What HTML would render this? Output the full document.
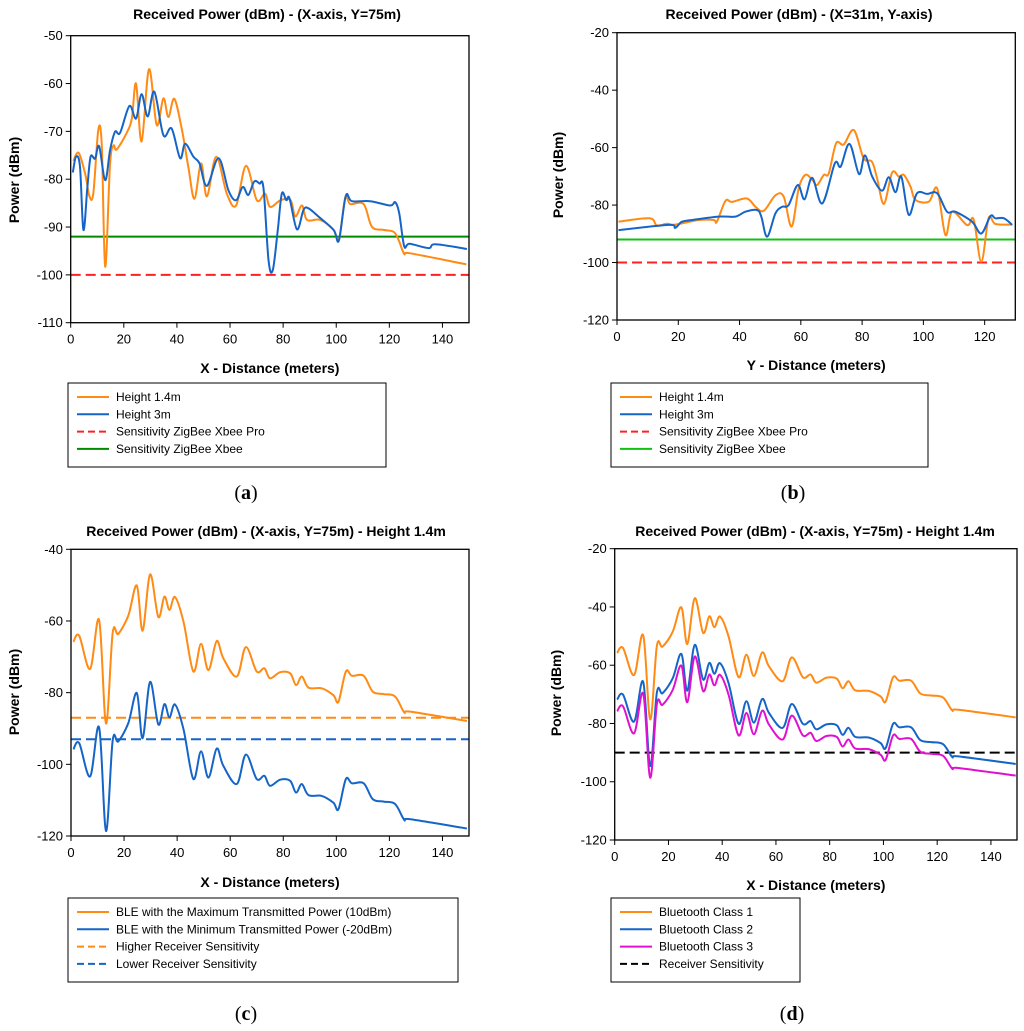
<!DOCTYPE html>
<html><head><meta charset="utf-8">
<style>
html,body{margin:0;padding:0;background:#fff;}
svg{display:block;font-family:"Liberation Sans",Arial,sans-serif;}
.tick{font-size:13px;fill:#000;}
.ttl{font-size:14px;font-weight:bold;}
.lg{font-size:12px;}
.cap{font-family:"Liberation Serif",serif;font-size:20px;}
</style></head>
<body>
<svg id="s" width="1024" height="1031" viewBox="0 0 1024 1031"></svg>
<script>
// ---- Panel (a) data ----
const aOrangeX=[1,3,5.5,7,8.5,10.4,11.7,13,14.8,16.1,17.3,21,23,24.6,26.7,29.5,32.4,34.9,36.8,39,41.8,44.3,46.6,49.1,51.3,54.8,58.8,62.3,66,70.1,73.2,75.1,79,82.8,84.6,87.1,89,94,99,101,103.4,105.3,110.3,113.4,117.8,121.6,123.5,125.6,127.9,149];
const aOrangeY=[-76.2,-74.5,-79,-83.5,-83,-69.7,-73,-98.3,-77,-73,-73.8,-70.4,-67.3,-60,-72.1,-57,-68.7,-63.1,-67,-63.2,-69.4,-77.4,-84.1,-76.7,-83.6,-75.3,-83,-85.5,-77.2,-84.4,-83,-85.8,-84.4,-84.4,-87.8,-85.5,-88.5,-88.5,-90.6,-92.7,-83.8,-85.2,-85.2,-89.9,-90.6,-91,-92.7,-95.6,-95.5,-97.8];
const aBlueX=[0.8,2,3.5,4.8,6.3,7.5,9.2,10.7,13,14.8,16.7,18.6,22.1,24.6,26.7,29,31.5,34.9,38,41.2,43.1,46.2,48.5,51.3,55.7,59.4,62.3,64.8,66.9,69.1,71.1,72.6,74.5,76.1,78,79.5,81.2,82.4,85.2,87.7,89.6,93.3,99,101,103.6,105.9,112.8,120.3,122.2,123.7,125.6,127.6,134.8,137.3,149.2];
const aBlueY=[-78.6,-75.3,-77.4,-90.6,-81.6,-75.3,-75.7,-73.1,-80.2,-74,-70.1,-70.3,-64.7,-67.3,-62.2,-66.9,-61.7,-70.8,-69.4,-75.6,-72.6,-75.3,-76.7,-81.4,-75.6,-82.3,-84.4,-81.6,-83.3,-80.5,-80.9,-81.9,-96.9,-99,-90.6,-83,-84.4,-84,-90.5,-86.4,-86.1,-87.8,-90.6,-92.8,-83.5,-84.6,-84.6,-85.5,-84.8,-87.1,-94,-93.5,-94.4,-93.6,-94.6];
const aSensPro=-100, aSensXbee=-92;
const aYTicks=[-50,-60,-70,-80,-90,-100,-110];
const aXTicks=[0,20,40,60,80,100,120,140];
// ---- Panel (b) data ----
const bOrangeX=[0.5,10.6,13,16.3,19,26.7,31.6,32.6,35.4,37.5,42.4,45.2,47.9,51.7,54.4,57,59.3,61.5,63.7,65.3,67.5,69.1,71.5,74,77.3,80.5,83.2,84.9,87.1,89.8,92,93.6,95.8,97.4,101.8,104.5,107.2,109.4,114.3,116.4,118.9,121.3,123.5,129];
const bOrangeY=[-85.8,-84.6,-87.1,-86.5,-86.8,-85.2,-85.2,-85.8,-78.5,-78.9,-77.7,-80.6,-82,-76.6,-77.1,-87.5,-74.2,-69.5,-71.2,-73,-69.5,-69,-58.5,-58.9,-53.9,-63.7,-64.9,-70.7,-79.6,-68.7,-70.1,-69.5,-73.6,-78.2,-78.8,-74.2,-90.4,-82.3,-87,-85,-99.7,-84.6,-86.6,-86.8];
const bBlueX=[0.5,16.9,19,21.2,24.5,33.2,38.6,41.9,45.7,47.1,49,51.7,53.9,56,59,61.2,63.7,67,71.1,73,75.9,79,80.9,83.3,86.5,88.7,90.9,92.8,95.2,97.9,101.2,104.5,107.7,110.4,115.9,118.9,121.9,123.5,126.3,129];
const bBlueY=[-88.7,-86.9,-87.9,-85.8,-85.2,-84,-84,-82.3,-81.7,-84,-91,-82.9,-80.6,-80,-73,-78,-70.5,-79.4,-65.5,-66.6,-58.7,-69.2,-62.7,-70.1,-75,-70.3,-75.5,-70.1,-83.4,-75.9,-76.1,-75.9,-82.3,-82.3,-85.8,-89.9,-83.8,-84.6,-84.6,-86.9];
const bSensPro=-100, bSensXbee=-92;
const bYTicks=[-20,-40,-60,-80,-100,-120];
const bXTicks=[0,20,40,60,80,100,120];
// ---- Panel (c) data ----
const cX=[0.9,3.1,7.2,10.6,13.2,15.7,17.8,21.6,24.8,27,29.8,32.9,35.2,37.1,39.2,42.4,46.1,49,51.8,54.9,57.4,62.5,65.9,70,72.9,75,78.8,82.6,84.8,87,89.5,94.5,98.9,100.8,103.6,105.9,110.3,113.7,117.8,122.2,125.6,127.9,149.2];
const cMaxY=[-65.8,-64.1,-73.4,-59.7,-88.6,-63.3,-63.6,-58.5,-50.1,-62.7,-47,-58.9,-53.2,-56.9,-53.3,-60.2,-74.1,-66.4,-73.7,-65.6,-70.4,-75.5,-67.3,-74.1,-73.2,-76,-74.3,-74.6,-77.9,-75.5,-78.6,-78.8,-80.7,-82.5,-74.1,-75.3,-75.3,-79.7,-80.4,-81.1,-85.5,-85.3,-87.9];
const cMinY=[-95.8,-94.1,-103.4,-89.7,-118.6,-93.3,-93.6,-88.5,-80.1,-92.7,-77,-88.9,-83.2,-86.9,-83.3,-90.2,-104.1,-96.4,-103.7,-95.6,-100.4,-105.5,-97.3,-104.1,-103.2,-106,-104.3,-104.6,-107.9,-105.5,-108.6,-108.8,-110.7,-112.5,-104.1,-105.3,-105.3,-109.7,-110.4,-111.1,-115.5,-115.3,-117.9];
const cSensHigh=-87, cSensLow=-93;
const cYTicks=[-40,-60,-80,-100,-120];
const cXTicks=[0,20,40,60,80,100,120,140];
// ---- Panel (d) data ----
const dX=[0.9,3.1,7.2,10.6,13.2,15.7,17.8,21.6,24.8,27,29.8,32.9,35.2,37.1,39.2,42.4,46.1,49,51.8,54.9,57.4,62.5,65.9,70,72.9,75,78.8,82.6,84.8,87,89.5,94.5,98.9,100.8,103.6,105.9,110.3,113.7,117.8,122.2,125.6,127.9,149.2];
const dClass1=[-55.8,-54.1,-63.4,-49.7,-78.6,-53.3,-53.6,-48.5,-40.1,-52.7,-37,-48.9,-43.2,-46.9,-43.3,-50.2,-64.1,-56.4,-63.7,-55.6,-60.4,-65.5,-57.3,-64.1,-63.2,-66,-64.3,-64.6,-67.9,-65.5,-68.6,-68.8,-70.7,-72.5,-64.1,-65.3,-65.3,-69.7,-70.4,-71.1,-75.5,-75.3,-77.9];
const dClass2=[-71.8,-70.1,-79.4,-65.7,-94.6,-69.3,-69.6,-64.5,-56.1,-68.7,-53,-64.9,-59.2,-62.9,-59.3,-66.2,-80.1,-72.4,-79.7,-71.6,-76.4,-81.5,-73.3,-80.1,-79.2,-82,-80.3,-80.6,-83.9,-81.5,-84.6,-84.8,-86.7,-88.5,-80.1,-81.3,-81.3,-85.7,-86.4,-87.1,-91.5,-91.3,-93.9];
const dClass3=[-75.8,-74.1,-83.4,-69.7,-98.6,-73.3,-73.6,-68.5,-60.1,-72.7,-57,-68.9,-63.2,-66.9,-63.3,-70.2,-84.1,-76.4,-83.7,-75.6,-80.4,-85.5,-77.3,-84.1,-83.2,-86,-84.3,-84.6,-87.9,-85.5,-88.6,-88.8,-90.7,-92.5,-84.1,-85.3,-85.3,-89.7,-90.4,-91.1,-95.5,-95.3,-97.9];
const dSens=-90;
const dYTicks=[-20,-40,-60,-80,-100,-120];
const dXTicks=[0,20,40,60,80,100,120,140];

const NS="http://www.w3.org/2000/svg";
const svg=document.getElementById('s');
function mk(tag,attrs,parent,text){
  const e=document.createElementNS(NS,tag);
  for(const k in attrs) e.setAttribute(k,attrs[k]);
  if(text!==undefined) e.textContent=text;
  (parent||svg).appendChild(e);
  return e;
}
function smooth(pts){
  let d='M'+pts[0][0].toFixed(1)+','+pts[0][1].toFixed(1);
  for(let i=0;i<pts.length-1;i++){
    const p0=pts[Math.max(0,i-1)],p1=pts[i],p2=pts[i+1],p3=pts[Math.min(pts.length-1,i+2)];
    const c1x=p1[0]+(p2[0]-p0[0])/6,c1y=p1[1]+(p2[1]-p0[1])/6;
    const c2x=p2[0]-(p3[0]-p1[0])/6,c2y=p2[1]-(p3[1]-p1[1])/6;
    d+=' C'+c1x.toFixed(1)+','+c1y.toFixed(1)+' '+c2x.toFixed(1)+','+c2y.toFixed(1)+' '+p2[0].toFixed(1)+','+p2[1].toFixed(1);
  }
  return d;
}
function panel(P){
  const g=mk('g',{});
  
  
  const sx=v=>P.L+(v-P.x0)/(P.x1-P.x0)*(P.R-P.L);
  const sy=v=>P.T+(P.y0-v)/(P.y0-P.y1)*(P.B-P.T);
  const t=mk('text',{x:P.tx,y:P.ty,'text-anchor':'middle','class':'ttl'},g,P.title);
  
  
  // y ticks
  P.yt.forEach(v=>{
    const y=sy(v);
    mk('line',{x1:P.L-5,x2:P.L,y1:y,y2:y,stroke:'#000','stroke-width':1},g);
    const l=mk('text',{x:P.L-8,y:y+4.5,'text-anchor':'end','class':'tick'},g,String(v));
    
    
  });
  P.xt.forEach(v=>{
    const x=sx(v);
    mk('line',{x1:x,x2:x,y1:P.B,y2:P.B+5,stroke:'#000','stroke-width':1},g);
    const l=mk('text',{x:x,y:P.B+21,'text-anchor':'middle','class':'tick'},g,String(v));
    
    
  });
  const xl=mk('text',{x:(P.L+P.R)/2,y:P.xly,'text-anchor':'middle','class':'ttl'},g,P.xlabel);
  
  
  const yl=mk('text',{x:0,y:0,'text-anchor':'middle','class':'ttl',transform:'translate('+P.ylx+','+P.yly+') rotate(-90)'},g,'Power (dBm)');
  
  
  const clip='clip-'+P.name;
  const cp=mk('clipPath',{id:clip},g);
  mk('rect',{x:P.L,y:P.T,width:P.R-P.L,height:P.B-P.T},cp);
  const inner=mk('g',{'clip-path':'url(#'+clip+')'},g);
  P.hlines.forEach(h=>{
    const ln=mk('line',{x1:P.L,x2:P.R,y1:sy(h.v),y2:sy(h.v),stroke:h.c,'stroke-width':2,'stroke-dasharray':h.dash?'10,5':'none'},inner);
    
    
  });
  P.series.forEach(s=>{
    const pts=s.x.map((xv,i)=>[sx(xv),sy(s.y[i])]);
    const p=mk('path',{d:smooth(pts),fill:'none',stroke:s.c,'stroke-width':2,'stroke-linejoin':'round'},inner);
    
    
  });
  mk('rect',{x:P.L,y:P.T,width:P.R-P.L,height:P.B-P.T,fill:'none',stroke:'#000','stroke-width':1.3},g);
  // legend
  const lg=mk('g',{},g);
  
  
  mk('rect',{x:P.lgx,y:P.lgy,width:P.lgw,height:84,fill:'#fff',stroke:'#000','stroke-width':1},lg);
  P.legend.forEach((e,i)=>{
    const y=P.lgy+18+i*17.3;
    mk('line',{x1:P.lgx+9,x2:P.lgx+41,y1:y-4,y2:y-4,stroke:e.c,'stroke-width':2,'stroke-dasharray':e.dash?'7,4':'none'},lg);
    const tx=mk('text',{x:P.lgx+48,y:y,'class':'lg'},lg,e.t);
    
    
  });
  const cap=mk('text',{x:P.capx,y:P.capy,'text-anchor':'middle','class':'cap'},g);
  
  
  cap.appendChild(document.createTextNode('('));
  mk('tspan',{'font-weight':'bold'},cap,P.letter);
  cap.appendChild(document.createTextNode(')'));
}
const OR='#ff8a14',BL='#1565c8';
panel({name:'panel-a',L:70.7,R:469,T:35.7,B:322.7,x0:0,x1:150,y0:-50,y1:-110,yt:aYTicks,xt:aXTicks,
  title:'Received Power (dBm)  - (X-axis, Y=75m)',tx:267,ty:19,xlabel:'X - Distance (meters)',xly:373,ylx:19,yly:180,
  hlines:[{v:aSensXbee,c:'#008a00',n:'sensitivity-xbee-line'},{v:aSensPro,c:'#ff2020',dash:1,n:'sensitivity-xbee-pro-line'}],
  series:[{x:aOrangeX,y:aOrangeY,c:OR,n:'height-1-4m-line'},{x:aBlueX,y:aBlueY,c:BL,n:'height-3m-line'}],
  lgx:68,lgy:383,lgw:318,legend:[{t:'Height 1.4m',c:OR},{t:'Height 3m',c:BL},{t:'Sensitivity ZigBee Xbee Pro',c:'#ff2020',dash:1},{t:'Sensitivity ZigBee Xbee',c:'#008a00'}],
  capx:246,capy:499,letter:'a'});
panel({name:'panel-b',L:617,R:1015.3,T:32.7,B:320,x0:0,x1:130,y0:-20,y1:-120,yt:bYTicks,xt:bXTicks,
  title:'Received Power (dBm)  - (X=31m, Y-axis)',tx:799,ty:19,xlabel:'Y - Distance (meters)',xly:370,ylx:563,yly:175,
  hlines:[{v:bSensXbee,c:'#12c012',n:'sensitivity-xbee-line'},{v:bSensPro,c:'#ff2020',dash:1,n:'sensitivity-xbee-pro-line'}],
  series:[{x:bOrangeX,y:bOrangeY,c:OR,n:'height-1-4m-line'},{x:bBlueX,y:bBlueY,c:BL,n:'height-3m-line'}],
  lgx:611,lgy:383,lgw:317,legend:[{t:'Height 1.4m',c:OR},{t:'Height 3m',c:BL},{t:'Sensitivity ZigBee Xbee Pro',c:'#ff2020',dash:1},{t:'Sensitivity ZigBee Xbee',c:'#12c012'}],
  capx:793,capy:499,letter:'b'});
panel({name:'panel-c',L:71,R:469,T:549.3,B:836,x0:0,x1:150,y0:-40,y1:-120,yt:cYTicks,xt:cXTicks,
  title:'Received Power (dBm)  - (X-axis, Y=75m) - Height 1.4m',tx:266,ty:536,xlabel:'X - Distance (meters)',xly:887,ylx:19,yly:692,
  hlines:[{v:cSensHigh,c:OR,dash:1,n:'higher-sensitivity-line'},{v:cSensLow,c:BL,dash:1,n:'lower-sensitivity-line'}],
  series:[{x:cX,y:cMaxY,c:OR,n:'ble-max-power-line'},{x:cX,y:cMinY,c:BL,n:'ble-min-power-line'}],
  lgx:68,lgy:898,lgw:390,legend:[{t:'BLE with the Maximum Transmitted Power (10dBm)',c:OR},{t:'BLE with the Minimum Transmitted Power (-20dBm)',c:BL},{t:'Higher Receiver Sensitivity',c:OR,dash:1},{t:'Lower Receiver Sensitivity',c:BL,dash:1}],
  capx:246,capy:1020,letter:'c'});
panel({name:'panel-d',L:614.7,R:1017,T:548.7,B:840,x0:0,x1:149.7,y0:-20,y1:-120,yt:dYTicks,xt:dXTicks,
  title:'Received Power (dBm)  - (X-axis, Y=75m) - Height 1.4m',tx:815,ty:536,xlabel:'X - Distance (meters)',xly:890,ylx:561,yly:693,
  hlines:[{v:dSens,c:'#000',dash:1,n:'receiver-sensitivity-line'}],
  series:[{x:dX,y:dClass1,c:OR,n:'bluetooth-class-1-line'},{x:dX,y:dClass2,c:BL,n:'bluetooth-class-2-line'},{x:dX,y:dClass3,c:'#e010d0',n:'bluetooth-class-3-line'}],
  lgx:611,lgy:898,lgw:189,legend:[{t:'Bluetooth Class 1',c:OR},{t:'Bluetooth Class 2',c:BL},{t:'Bluetooth Class 3',c:'#e010d0'},{t:'Receiver Sensitivity',c:'#000',dash:1}],
  capx:792,capy:1020,letter:'d'});
</script>
</body></html>
